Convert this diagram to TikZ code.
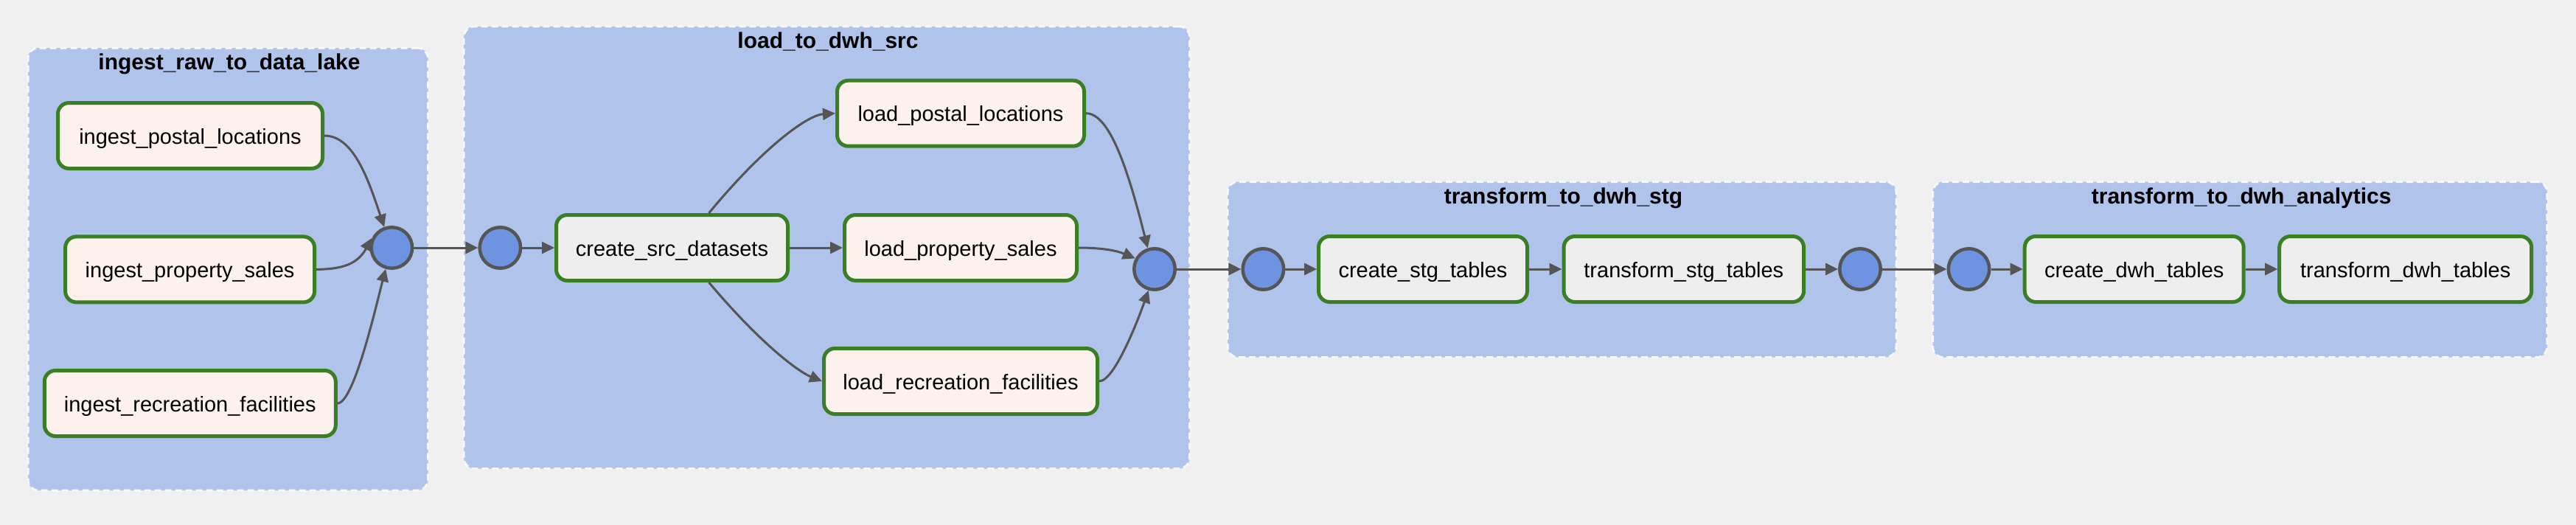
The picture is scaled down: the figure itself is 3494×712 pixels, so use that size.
\documentclass[tikz,border=0pt]{standalone}
\usepackage{fontspec}
\setmainfont{Liberation Sans}
\usetikzlibrary{arrows.meta}
\definecolor{bgc}{HTML}{F0F0F0}
\definecolor{grpfill}{HTML}{B0C3EB}
\definecolor{grpline}{HTML}{F8F8F8}
\definecolor{taskgreen}{HTML}{3A7F23}
\definecolor{pyfill}{HTML}{FCF1EC}
\definecolor{sqlfill}{HTML}{EEEEEE}
\definecolor{jointfill}{HTML}{6D93E1}
\definecolor{edgec}{HTML}{555555}
\begin{document}
\begin{tikzpicture}[x=1pt,y=-1pt,
  grp/.style={draw=grpline, fill=grpfill, line width=3pt, dash pattern=on 9pt off 5pt, rounded corners=14pt, inner sep=0pt},
  grptitle/.style={anchor=base, font=\fontsize{30}{36}\selectfont\bfseries, inner sep=0pt},
  task/.style={draw=taskgreen, line width=5pt, rounded corners=15pt, minimum height=89pt, inner sep=0pt, text height=22pt, text depth=0pt, font=\fontsize{29}{35}\selectfont},
  pytask/.style={task, fill=pyfill},
  sqltask/.style={task, fill=sqlfill},
  joint/.style={circle, draw=edgec, fill=jointfill, line width=4.5pt, minimum size=55.5pt, inner sep=0pt},
  flow/.style={draw=edgec, line width=3pt, -{Triangle[length=17pt,width=16pt]}},
]
\fill[bgc] (0,0) rectangle (3494,712);
\useasboundingbox (0,0) rectangle (3494,712);

% groups
\node[grp, minimum width=542.5pt, minimum height=600pt] (g1) at (309.25,365) {};
\node[grptitle] (t1) at (311,94.5) {ingest\_raw\_to\_data\_lake};
\node[grp, minimum width=984.3pt, minimum height=599.7pt] (g2) at (1121.35,335.65) {};
\node[grptitle] (t2) at (1123,65.3) {load\_to\_dwh\_src};
\node[grp, minimum width=907pt, minimum height=238pt] (g3) at (2118.5,365.5) {};
\node[grptitle] (t3) at (2120.5,276.5) {transform\_to\_dwh\_stg};
\node[grp, minimum width=833.4pt, minimum height=238pt] (g4) at (3038.2,365.5) {};
\node[grptitle] (t4) at (3040.2,276.5) {transform\_to\_dwh\_analytics};

% group 1
\node[pytask, minimum width=359pt] (ip) at (258,184) {ingest\_postal\_locations};
\node[pytask, minimum width=338pt] (is) at (257.6,365.4) {ingest\_property\_sales};
\node[pytask, minimum width=395pt] (ir) at (257.8,547) {ingest\_recreation\_facilities};
\node[joint] (c1) at (531.4,336) {};

% group 2
\node[joint] (c2) at (678.4,336) {};
\node[sqltask, minimum width=314pt] (cs) at (911.5,336) {create\_src\_datasets};
\node[pytask, minimum width=335pt] (lp) at (1303,153.7) {load\_postal\_locations};
\node[pytask, minimum width=315pt] (ls) at (1303,336) {load\_property\_sales};
\node[pytask, minimum width=371pt] (lr) at (1303,517) {load\_recreation\_facilities};
\node[joint] (c3) at (1566,365) {};

% group 3
\node[joint] (c4) at (1713.4,365) {};
\node[sqltask, minimum width=283pt] (cst) at (1930,365) {create\_stg\_tables};
\node[sqltask, minimum width=325.5pt] (tst) at (2283.8,365) {transform\_stg\_tables};
\node[joint] (c5) at (2523,365) {};

% group 4
\node[joint] (c6) at (2670.5,365) {};
\node[sqltask, minimum width=297pt] (cdw) at (2894.7,365) {create\_dwh\_tables};
\node[sqltask, minimum width=342pt] (tdw) at (3262.7,365) {transform\_dwh\_tables};

% edges
\draw[flow] (ip.east) .. controls (480,184) and (500,245) .. (c1.110);
\draw[flow] (is.east) .. controls (465,365) and (485,358) .. (c1.154);
\draw[flow] (ir.east) .. controls (480,547) and (510,415) .. (c1.254);
\draw[flow] (c1) -- (c2);
\draw[flow] (c2) -- (cs);
\draw[flow] ([xshift=50pt]cs.north) .. controls (1035,200) and (1095,156) .. (lp.west);
\draw[flow] (cs) -- (ls);
\draw[flow] ([xshift=50pt]cs.south) .. controls (1035,470) and (1085,505) .. (lr.west);
\draw[flow] (lp.east) .. controls (1505,153.5) and (1530,230) .. (c3.108);
\draw[flow] (ls.east) .. controls (1495,336) and (1515,340) .. (c3.151);
\draw[flow] (lr.east) .. controls (1512,517) and (1545,430) .. (c3.254);
\draw[flow] (c3) -- (c4);
\draw[flow] (c4) -- (cst);
\draw[flow] (cst) -- (tst);
\draw[flow] (tst) -- (c5);
\draw[flow] (c5) -- (c6);
\draw[flow] (c6) -- (cdw);
\draw[flow] (cdw) -- (tdw);
\end{tikzpicture}
\end{document}
